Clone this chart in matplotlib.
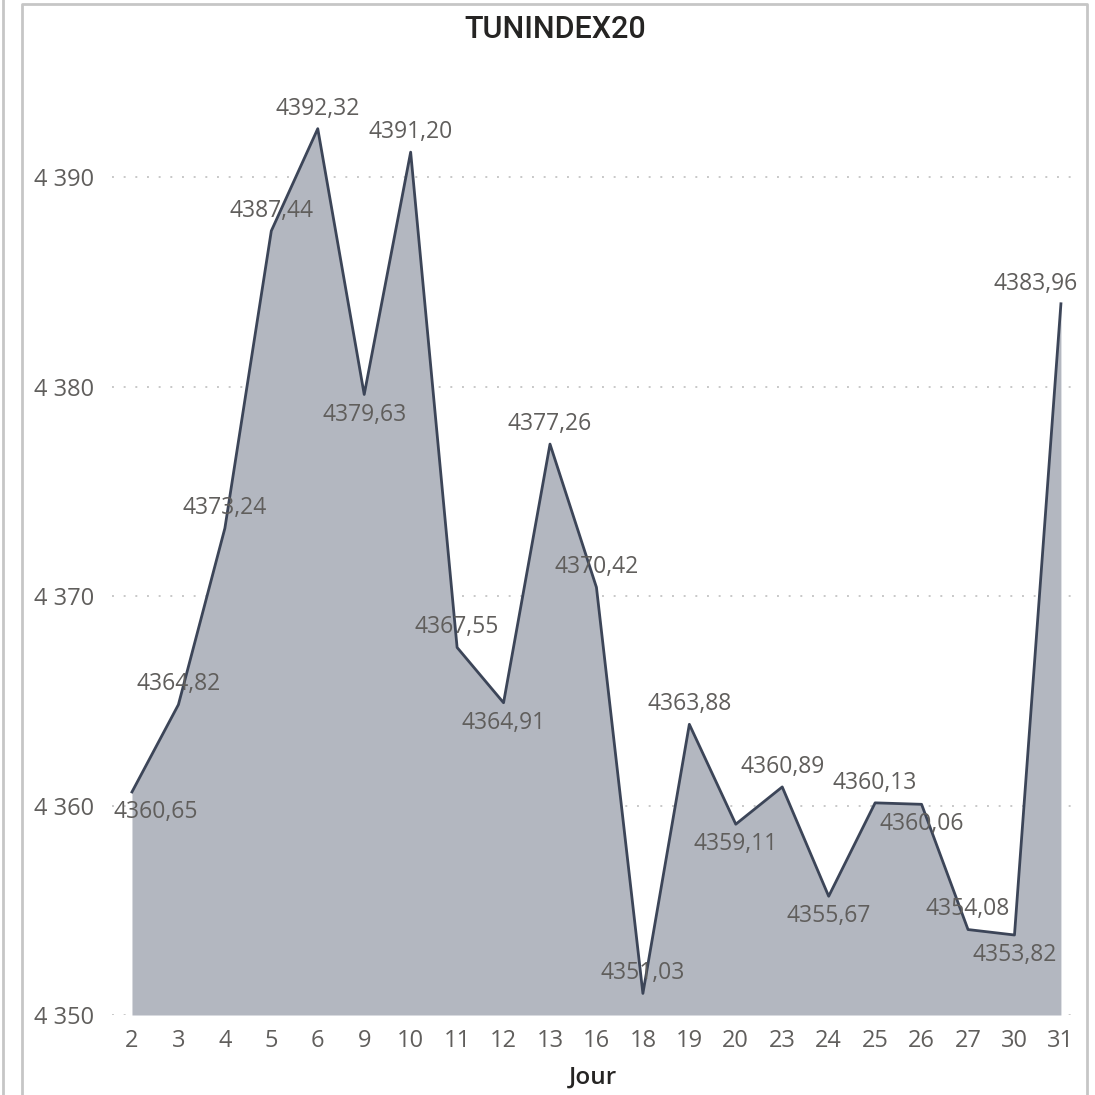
import matplotlib
matplotlib.use("Agg")
import matplotlib.pyplot as plt
from matplotlib.lines import Line2D
from matplotlib.ticker import FuncFormatter

days = ["2", "3", "4", "5", "6", "9", "10", "11", "12", "13", "16", "18", "19", "20", "23", "24", "25", "26", "27", "30", "31"]
values = [4360.65, 4364.82, 4373.24, 4387.44, 4392.32, 4379.63, 4391.20, 4367.55, 4364.91, 4377.26,
          4370.42, 4351.03, 4363.88, 4359.11, 4360.89, 4355.67, 4360.13, 4360.06, 4354.08, 4353.82, 4383.96]
label_above = [False, True, True, True, True, False, True, True, False, True,
               True, True, True, False, True, False, True, False, True, False, True]
yticks = [4350, 4360, 4370, 4380, 4390]

W = H = 1095
fig = plt.figure(figsize=(10.95, 10.95), dpi=100)
FONT = ["Open Sans", "DejaVu Sans"]
TXT = "#605E5C"

ax = fig.add_axes([112 / W, 1 - 1015 / H, (1073 - 112) / W, (1015 - 60) / H])
x = list(range(len(days)))
ax.fill_between(x, values, 4350, color="#B3B7C0", linewidth=0, zorder=2)
ax.plot(x, values, color="#3C4558", linewidth=2, zorder=3)

ax.set_xlim(-0.43, 20.26)
ax.set_ylim(4350, 4395.6)
ax.set_yticks(yticks)
ax.yaxis.set_major_formatter(FuncFormatter(lambda v, p: f"{int(v):,}".replace(",", " ")))
ax.set_xticks(x)
ax.set_xticklabels(days)
for s in ax.spines.values():
    s.set_visible(False)
ax.tick_params(axis="both", length=0, labelsize=17, labelcolor=TXT)
ax.tick_params(axis="y", pad=13)
ax.tick_params(axis="x", pad=10)
for lab in ax.get_xticklabels() + ax.get_yticklabels():
    lab.set_family(FONT)
ax.grid(axis="y", color="#C8C8C8", linestyle=(0, (1, 5)), linewidth=1.4, zorder=1)
ax.set_axisbelow(True)

n = len(values)
for i, (v, up) in enumerate(zip(values, label_above)):
    dy = 14.5 if up else -14.5
    ha, dx = "center", 0
    if i == 0:
        ha, dx = "left", -13.5
    elif i == n - 1:
        ha, dx = "right", 12
    ax.annotate(f"{v:.2f}".replace(".", ","), (i, v), xytext=(dx, dy), textcoords="offset points",
                ha=ha, va="center", fontsize=16.5, color=TXT, family=FONT, zorder=4)

ax.set_xlabel("Jour", fontsize=17.5, fontweight="semibold", color="#252423", family=FONT, labelpad=9)

fig.text(555 / W, 1 - 30 / H, "TUNINDEX20", ha="center", va="center", fontsize=22,
         fontweight="medium", color="#252423", family=["Roboto", "DejaVu Sans"])

frame = "#C6C6C6"
fig.add_artist(Line2D([3 / W, 3 / W], [0, 1], color=frame, linewidth=2, transform=fig.transFigure))
fig.add_artist(Line2D([22 / W, 22 / W, 1087 / W, 1087 / W], [0, 1 - 4 / H, 1 - 4 / H, 0],
                      color=frame, linewidth=2, transform=fig.transFigure))

fig.savefig("out.png", dpi=100)
